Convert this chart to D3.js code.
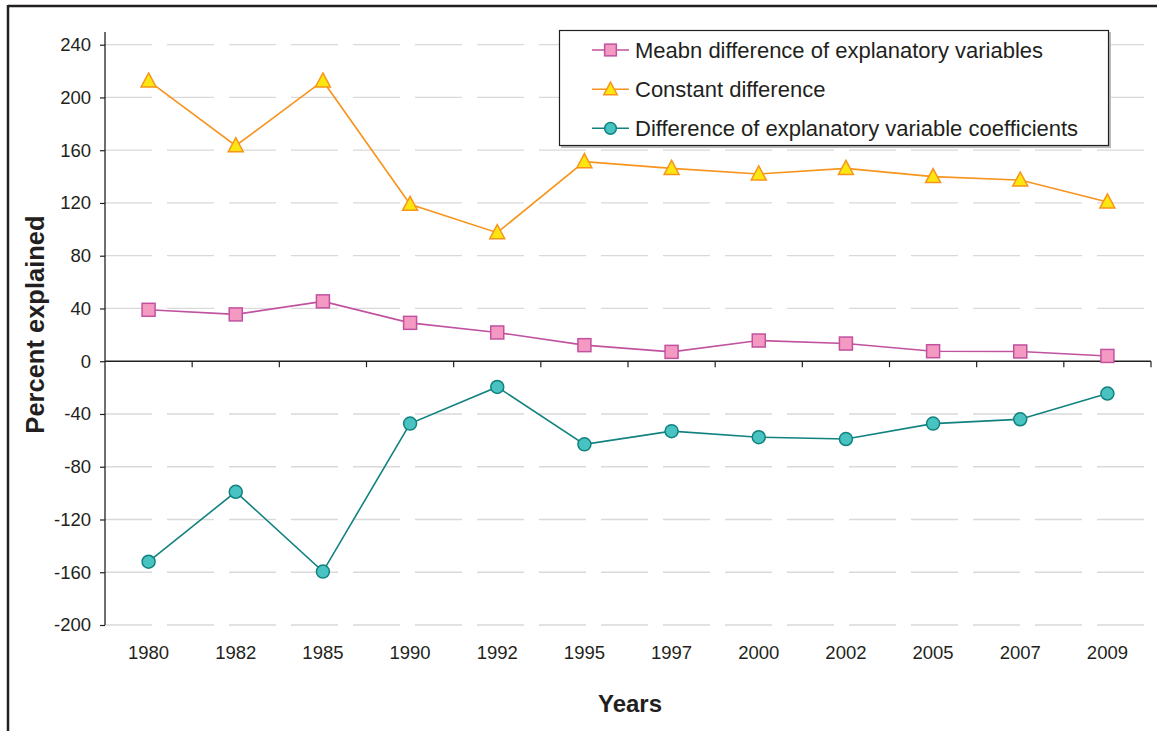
<!DOCTYPE html>
<html><head><meta charset="utf-8">
<script src="https://cdn.jsdelivr.net/npm/d3@7"></script>
<style>
html,body{margin:0;padding:0;background:#fff;}
svg{display:block;font-family:"Liberation Sans",Arial,sans-serif;}
</style></head>
<body>
<svg id="c" width="1157" height="731"></svg>
<script>
const years = ["1980","1982","1985","1990","1992","1995","1997","2000","2002","2005","2007","2009"];
const meanDiff = [39, 35.5, 45.4, 29.1, 21.8, 12.2, 7.1, 15.7, 13.4, 7.6, 7.4, 4.0];
const constDiff = [212.5, 163.4, 212.5, 119, 97.5, 151.3, 146.2, 142, 146.2, 140, 137.4, 120.8];
const coefDiff = [-152, -99, -159.5, -47.3, -19.5, -63, -53, -57.6, -59, -47.3, -44, -24.5];
const yTicks = [240, 200, 160, 120, 80, 40, 0, -40, -80, -120, -160, -200];
const seriesNames = ["Meabn difference of explanatory variables", "Constant difference", "Difference of explanatory variable coefficients"];

const svg = d3.select("#c");
const W = 1157, H = 731;

// outer frame
svg.append("line").attr("x1",8).attr("x2",W).attr("y1",6).attr("y2",6).attr("stroke","#231f20").attr("stroke-width",2.5);
svg.append("line").attr("x1",8).attr("x2",8).attr("y1",5).attr("y2",H).attr("stroke","#231f20").attr("stroke-width",2.5);

const x0 = 105, x1 = 1151, yTop = 32, yBot = 625;
const x = d3.scaleBand().domain(years).range([x0, x1]);
const y = d3.scaleLinear().domain([-200, 240]).range([yBot, 44.7]);

// gridlines
svg.append("g").selectAll("line").data(yTicks.filter(d => d !== 0)).join("line")
  .attr("x1", x0).attr("x2", x1).attr("y1", d => y(d)).attr("y2", d => y(d))
  .attr("stroke", "#d9d9d9").attr("stroke-width", 1.3).attr("stroke-dasharray", "47,15");

// y axis
const yAxis = d3.axisLeft(y).tickValues(yTicks).tickSize(5).tickPadding(9).tickFormat(d => String(d));
const gy = svg.append("g").attr("transform", `translate(${x0},0)`).call(yAxis);
gy.select(".domain").remove();
gy.append("line").attr("x1",0).attr("x2",0).attr("y1",yTop).attr("y2",yBot).attr("stroke","#231f20").attr("stroke-width",1.3);
gy.selectAll(".tick line").attr("stroke","#231f20").attr("stroke-width",1.2);
gy.selectAll(".tick text").attr("fill","#231f20").style("font-size","18.5px").style("font-family","Liberation Sans, Arial, sans-serif");

// x axis line at zero with category boundary ticks
const bounds = years.map((d) => x(d) + x.bandwidth());
const gx = svg.append("g");
gx.append("line").attr("x1", x0).attr("x2", x1).attr("y1", y(0)).attr("y2", y(0)).attr("stroke","#231f20").attr("stroke-width",1.3);
gx.selectAll("line.tk").data(bounds).join("line").attr("class","tk")
  .attr("x1", d => d).attr("x2", d => d).attr("y1", y(0)).attr("y2", y(0) + 6)
  .attr("stroke","#231f20").attr("stroke-width",1.2);

// x labels at bottom
const xAxis = d3.axisBottom(x).tickSize(0).tickPadding(0);
const gxb = svg.append("g").attr("transform", `translate(0,${yBot})`).call(xAxis);
gxb.select(".domain").remove();
gxb.selectAll(".tick text").attr("fill","#231f20").attr("dy", 0).attr("y", 34)
  .style("font-size","18.5px").style("font-family","Liberation Sans, Arial, sans-serif");

// axis titles
svg.append("text").attr("transform", `translate(44,${(yTop+yBot)/2 - 4}) rotate(-90)`)
  .attr("text-anchor","middle").attr("font-weight","bold").attr("font-size","25.5px").attr("fill","#231f20")
  .text("Percent explained");
svg.append("text").attr("x", 630).attr("y", 712).attr("text-anchor","middle")
  .attr("font-weight","bold").attr("font-size","24px").attr("fill","#231f20").text("Years");

const cx = d => x(d) + x.bandwidth()/2;
const line = d3.line().x((d,i) => cx(years[i])).y(d => y(d));

const styles = [
  {data: meanDiff, line: "#c1529f", fill: "#f49ac2", stroke: "#c1529f", shape: "square"},
  {data: constDiff, line: "#f7941d", fill: "#fbe610", stroke: "#f7941d", shape: "triangle"},
  {data: coefDiff, line: "#11827f", fill: "#48c3c1", stroke: "#11827f", shape: "circle"}
];

function marker(g, shape, fill, stroke, px, py, k) {
  k = k || 1;
  if (shape === "square") {
    g.append("rect").attr("x", px - 6.5*k).attr("y", py - 6.5*k).attr("width", 13*k).attr("height", 13*k)
      .attr("fill", fill).attr("stroke", stroke).attr("stroke-width", 1.5);
  } else if (shape === "triangle") {
    g.append("path").attr("d", `M${px},${py-8*k} L${px+7.5*k},${py+6*k} L${px-7.5*k},${py+6*k} Z`)
      .attr("fill", fill).attr("stroke", stroke).attr("stroke-width", 1.5);
  } else {
    g.append("circle").attr("cx", px).attr("cy", py).attr("r", 6.5*k)
      .attr("fill", fill).attr("stroke", stroke).attr("stroke-width", 1.5);
  }
}

styles.forEach(s => {
  svg.append("path").datum(s.data).attr("d", line).attr("fill","none").attr("stroke", s.line).attr("stroke-width", 1.6);
  const g = svg.append("g");
  s.data.forEach((v,i) => marker(g, s.shape, s.fill, s.stroke, cx(years[i]), y(v)));
});

// legend
const lg = svg.append("g");
lg.append("rect").attr("x", 561).attr("y", 32).attr("width", 550).attr("height", 116).attr("fill", "#bbb");
lg.append("rect").attr("x", 559.5).attr("y", 30.5).attr("width", 549).attr("height", 115).attr("fill", "#fff").attr("stroke", "#231f20").attr("stroke-width", 1.2);
const rowY = [50, 89.3, 128.3];
styles.forEach((s,i) => {
  lg.append("line").attr("x1", 592).attr("x2", 629).attr("y1", rowY[i]).attr("y2", rowY[i]).attr("stroke", s.line).attr("stroke-width", 1.6);
  marker(lg, s.shape, s.fill, s.stroke, 610.5, rowY[i], 0.9);
  lg.append("text").attr("x", 635).attr("y", rowY[i] + 7.7).attr("font-size", "22px").attr("fill", "#231f20").text(seriesNames[i]);
});
</script>
</body></html>
